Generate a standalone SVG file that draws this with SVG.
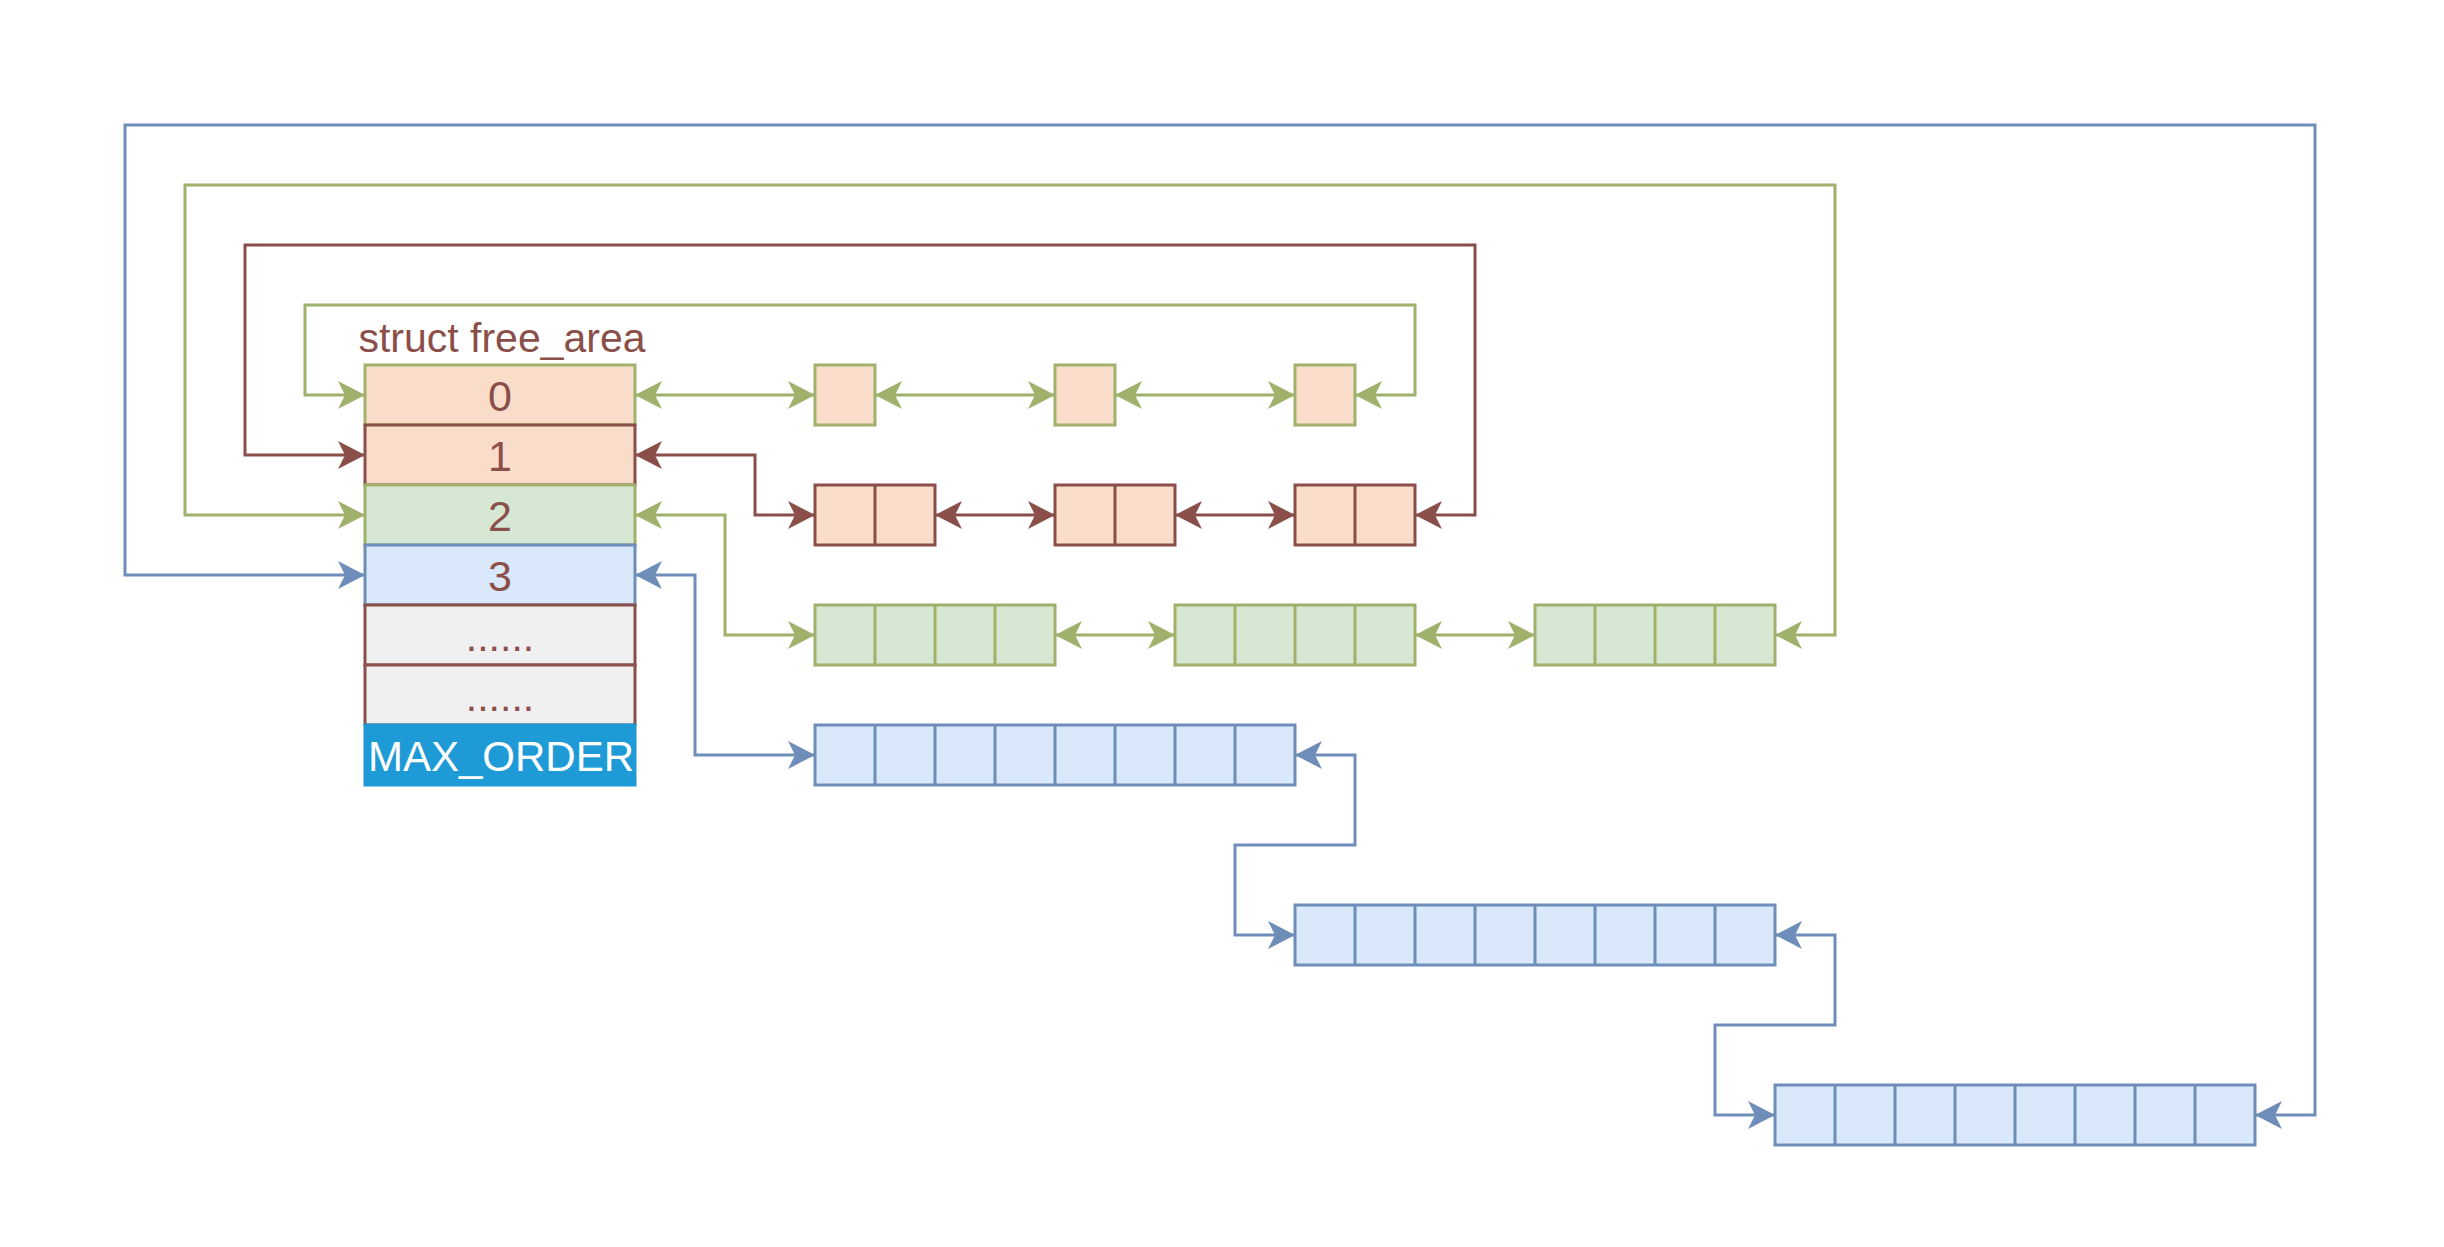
<svg xmlns="http://www.w3.org/2000/svg" width="2444" height="1247" viewBox="0 0 2444 1247">
<style>
  .lbl { font-family: "Liberation Sans", Arial, sans-serif; fill: #8b4f4a; text-anchor: middle; }
  .g { stroke: #a0b16b; }
  .r { stroke: #8b4f4a; }
  .b { stroke: #6e8eb9; }
  .cell { stroke-width: 3; }
  .pf { fill: #fadccb; }
  .gf { fill: #d6e8d4; }
  .bf { fill: #d9e8fa; }
  .grf { fill: #f0f0f0; }
  .div { stroke-width: 3; fill: none; }
  .conn path { fill: none; stroke-width: 3; }
  .cg { stroke: #a0b16b; marker-start: url(#ag); marker-end: url(#ag); }
  .cr { stroke: #8b4f4a; marker-start: url(#ar); marker-end: url(#ar); }
  .cb { stroke: #6e8eb9; marker-start: url(#ab); marker-end: url(#ab); }
</style>
<defs>
  <marker id="ag" markerUnits="userSpaceOnUse" markerWidth="32" markerHeight="32" viewBox="-28 -16 32 32" refX="0" refY="0" orient="auto-start-reverse"><path d="M0,0 L-27,-14 L-20,0 L-27,14 Z" fill="#a0b16b"/></marker>
  <marker id="ar" markerUnits="userSpaceOnUse" markerWidth="32" markerHeight="32" viewBox="-28 -16 32 32" refX="0" refY="0" orient="auto-start-reverse"><path d="M0,0 L-27,-14 L-20,0 L-27,14 Z" fill="#8b4f4a"/></marker>
  <marker id="ab" markerUnits="userSpaceOnUse" markerWidth="32" markerHeight="32" viewBox="-28 -16 32 32" refX="0" refY="0" orient="auto-start-reverse"><path d="M0,0 L-27,-14 L-20,0 L-27,14 Z" fill="#6e8eb9"/></marker>
</defs>
<rect width="2444" height="1247" fill="#ffffff"/>

<g id="free_area">
  <text class="lbl" x="502" y="352" font-size="41">struct free_area</text>
  <g id="row0"><rect class="cell pf g" x="365" y="365" width="270" height="60"/><text class="lbl" x="500" y="411" font-size="43">0</text></g>
  <g id="row1"><rect class="cell pf r" x="365" y="425" width="270" height="60"/><text class="lbl" x="500" y="471" font-size="43">1</text></g>
  <g id="row2"><rect class="cell gf g" x="365" y="485" width="270" height="60"/><text class="lbl" x="500" y="531" font-size="43">2</text></g>
  <g id="row3"><rect class="cell bf b" x="365" y="545" width="270" height="60"/><text class="lbl" x="500" y="591" font-size="43">3</text></g>
  <g id="row4"><rect class="cell grf r" x="365" y="605" width="270" height="60"/><text class="lbl" x="500" y="651" font-size="41">......</text></g>
  <g id="row5"><rect class="cell grf r" x="365" y="665" width="270" height="60"/><text class="lbl" x="500" y="711" font-size="41">......</text></g>
  <g id="row6"><rect x="365" y="725" width="270" height="60" fill="#1e9bd7" stroke="#1e9bd7" stroke-width="3"/><text x="501" y="771" font-size="42" font-family="Liberation Sans, Arial, sans-serif" fill="#ffffff" text-anchor="middle">MAX_ORDER</text></g>
</g>

<g id="order0-list">
  <g id="o0n1"><rect class="cell pf g" x="815" y="365" width="60" height="60"/></g>
  <g id="o0n2"><rect class="cell pf g" x="1055" y="365" width="60" height="60"/></g>
  <g id="o0n3"><rect class="cell pf g" x="1295" y="365" width="60" height="60"/></g>
</g>

<g id="order1-list">
  <g id="o1n1"><rect class="cell pf r" x="815" y="485" width="120" height="60"/><path class="div r" d="M875,485 V545"/></g>
  <g id="o1n2"><rect class="cell pf r" x="1055" y="485" width="120" height="60"/><path class="div r" d="M1115,485 V545"/></g>
  <g id="o1n3"><rect class="cell pf r" x="1295" y="485" width="120" height="60"/><path class="div r" d="M1355,485 V545"/></g>
</g>

<g id="order2-list">
  <g id="o2n1"><rect class="cell gf g" x="815" y="605" width="240" height="60"/><path class="div g" d="M875,605 V665 M935,605 V665 M995,605 V665"/></g>
  <g id="o2n2"><rect class="cell gf g" x="1175" y="605" width="240" height="60"/><path class="div g" d="M1235,605 V665 M1295,605 V665 M1355,605 V665"/></g>
  <g id="o2n3"><rect class="cell gf g" x="1535" y="605" width="240" height="60"/><path class="div g" d="M1595,605 V665 M1655,605 V665 M1715,605 V665"/></g>
</g>

<g id="order3-list">
  <g id="o3n1"><rect class="cell bf b" x="815" y="725" width="480" height="60"/><path class="div b" d="M875,725 V785 M935,725 V785 M995,725 V785 M1055,725 V785 M1115,725 V785 M1175,725 V785 M1235,725 V785"/></g>
  <g id="o3n2"><rect class="cell bf b" x="1295" y="905" width="480" height="60"/><path class="div b" d="M1355,905 V965 M1415,905 V965 M1475,905 V965 M1535,905 V965 M1595,905 V965 M1655,905 V965 M1715,905 V965"/></g>
  <g id="o3n3"><rect class="cell bf b" x="1775" y="1085" width="480" height="60"/><path class="div b" d="M1835,1085 V1145 M1895,1085 V1145 M1955,1085 V1145 M2015,1085 V1145 M2075,1085 V1145 M2135,1085 V1145 M2195,1085 V1145"/></g>
</g>

<g id="connectors" class="conn">
  <path class="cg" d="M1355,395 H1415 V305 H305 V395 H365"/>
  <path class="cg" d="M635,395 H815"/>
  <path class="cg" d="M875,395 H1055"/>
  <path class="cg" d="M1115,395 H1295"/>
  <path class="cr" d="M635,455 H755 V515 H815"/>
  <path class="cr" d="M935,515 H1055"/>
  <path class="cr" d="M1175,515 H1295"/>
  <path class="cr" d="M1415,515 H1475 V245 H245 V455 H365"/>
  <path class="cg" d="M635,515 H725 V635 H815"/>
  <path class="cg" d="M1055,635 H1175"/>
  <path class="cg" d="M1415,635 H1535"/>
  <path class="cg" d="M1775,635 H1835 V185 H185 V515 H365"/>
  <path class="cb" d="M635,575 H695 V755 H815"/>
  <path class="cb" d="M1295,755 H1355 V845 H1235 V935 H1295"/>
  <path class="cb" d="M1775,935 H1835 V1025 H1715 V1115 H1775"/>
  <path class="cb" d="M2255,1115 H2315 V125 H125 V575 H365"/>
</g>
</svg>
